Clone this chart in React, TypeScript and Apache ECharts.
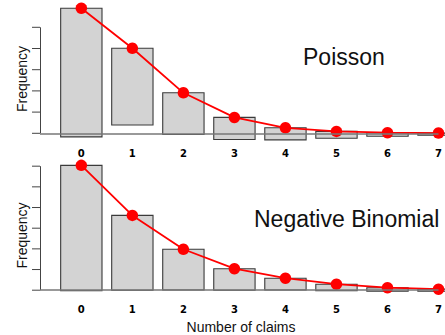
import React, { useEffect, useRef } from "react";
import * as echarts from "echarts";

const claims = ["0", "1", "2", "3", "4", "5", "6", "7"];
const observed = [607, 362, 197, 104, 57, 32, 17, 10];
const poissonExpected = [590, 401, 191, 75, 26, 9, 3, 1];
const nbExpected = [604, 362, 198, 104, 58, 29, 12, 5];
const poissonTicks = [0, 100, 200, 300, 400, 500];
const nbTicks = [0, 100, 200, 300, 400, 500, 600];

const X_MIN = -0.81;
const X_MAX = 7.0;
const HALF = 0.405;

function barsData(expected: number[]) {
  return claims.map((_, i) => [i, expected[i], expected[i] - observed[i]]);
}

function renderBar(params: any, api: any) {
  const x = api.value(0);
  const top = api.value(1);
  const bottom = api.value(2);
  const p1 = api.coord([x - HALF, top]);
  const p2 = api.coord([x + HALF, bottom]);
  return {
    type: "rect",
    shape: { x: p1[0], y: p1[1], width: p2[0] - p1[0], height: p2[1] - p1[1] },
    style: { fill: "#d3d3d3", stroke: "#3a3a3a", lineWidth: 1.1 },
  };
}

function renderTick(params: any, api: any) {
  const p = api.coord([api.value(0), api.value(1)]);
  return {
    type: "line",
    shape: { x1: p[0] - 8, y1: p[1], x2: p[0], y2: p[1] },
    style: { stroke: "#444", lineWidth: 1 },
  };
}

export default function App() {
  const ref = useRef<HTMLDivElement>(null);
  useEffect(() => {
    if (!ref.current) return;
    const chart = echarts.init(ref.current, null, { renderer: "svg" });
    const xAxisBase = (gridIndex: number, margin: number) => ({
      type: "value",
      gridIndex,
      min: X_MIN,
      max: X_MAX,
      axisLine: { show: false },
      axisTick: { show: false },
      splitLine: { show: false },
      axisLabel: {
        customValues: claims.map((_, i) => i),
        formatter: (v: number) => claims[Math.round(v)] ?? "",
        fontFamily: "DejaVu Sans",
        fontWeight: "bold",
        fontSize: 10,
        color: "#000",
        margin,
        showMinLabel: true,
        showMaxLabel: true,
        hideOverlap: false,
      },
    });
    const yAxisBase = (gridIndex: number, min: number, max: number) => ({
      type: "value",
      gridIndex,
      min,
      max,
      axisLine: { show: false },
      axisTick: { show: false },
      axisLabel: { show: false },
      splitLine: { show: false },
    });
    const tickSeries = (idx: number, ticks: number[]) => ({
      type: "custom",
      xAxisIndex: idx,
      yAxisIndex: idx,
      data: ticks.map((v) => [X_MIN, v]),
      encode: { x: 0, y: 1 },
      renderItem: renderTick,
      clip: false,
      silent: true,
      z: 3,
    });
    const guideSeries = (idx: number, topTick: number) => ({
      type: "line",
      xAxisIndex: idx,
      yAxisIndex: idx,
      data: [],
      z: 3,
      silent: true,
      markLine: {
        silent: true,
        symbol: ["none", "none"],
        label: { show: false },
        animation: false,
        data: [
          [
            { coord: [X_MIN, 0], lineStyle: { color: "#444", width: 1, type: "solid" } },
            { coord: [X_MIN, topTick] },
          ],
          [
            { coord: [X_MIN, 0], lineStyle: { color: "#777", width: 1.5, type: "solid" } },
            { coord: [X_MAX, 0] },
          ],
        ],
      },
    });
    const lineSeries = (idx: number, expected: number[]) => ({
      type: "line",
      xAxisIndex: idx,
      yAxisIndex: idx,
      data: claims.map((_, i) => [i, expected[i]]),
      symbol: "circle",
      symbolSize: 11.5,
      itemStyle: { color: "#ff0000" },
      lineStyle: { color: "#ff0000", width: 1.8 },
      clip: false,
      z: 4,
    });
    const barSeries = (idx: number, expected: number[]) => ({
      type: "custom",
      xAxisIndex: idx,
      yAxisIndex: idx,
      data: barsData(expected),
      encode: { x: 0, y: [1, 2] },
      renderItem: renderBar,
      clip: false,
      z: 2,
    });
    const textStyle = (text: string, size: number) => ({
      text,
      fontFamily: "Liberation Sans",
      fontSize: size,
      fill: "#111",
    });
    chart.setOption({
      animation: false,
      grid: [
        { left: 40, right: 0, top: 3.98, height: 137.8 },
        { left: 40, right: 0, top: 162.05, height: 130.22 },
      ],
      xAxis: [xAxisBase(0, 7), xAxisBase(1, 12)],
      yAxis: [yAxisBase(0, -40, 610), yAxisBase(1, -10, 620)],
      series: [
        barSeries(0, poissonExpected),
        guideSeries(0, 500),
        tickSeries(0, poissonTicks),
        lineSeries(0, poissonExpected),
        barSeries(1, nbExpected),
        guideSeries(1, 600),
        tickSeries(1, nbTicks),
        lineSeries(1, nbExpected),
      ],
      graphic: [
        {
          type: "text",
          x: 22,
          y: 79,
          rotation: Math.PI / 2,
          style: { ...textStyle("Frequency", 14), align: "center", verticalAlign: "middle" },
        },
        {
          type: "text",
          x: 22,
          y: 235.5,
          rotation: Math.PI / 2,
          style: { ...textStyle("Frequency", 14), align: "center", verticalAlign: "middle" },
        },
        {
          type: "text",
          x: 303,
          y: 57,
          style: { ...textStyle("Poisson", 23), align: "left", verticalAlign: "middle" },
        },
        {
          type: "text",
          x: 254,
          y: 218.6,
          style: { ...textStyle("Negative Binomial", 23), align: "left", verticalAlign: "middle" },
        },
        {
          type: "text",
          x: 241,
          y: 326.8,
          style: { ...textStyle("Number of claims", 14), align: "center", verticalAlign: "middle" },
        },
      ],
    });
    return () => chart.dispose();
  }, []);
  return <div ref={ref} style={{ width: 445, height: 335, position: "absolute", left: 0, top: 0 }} />;
}
